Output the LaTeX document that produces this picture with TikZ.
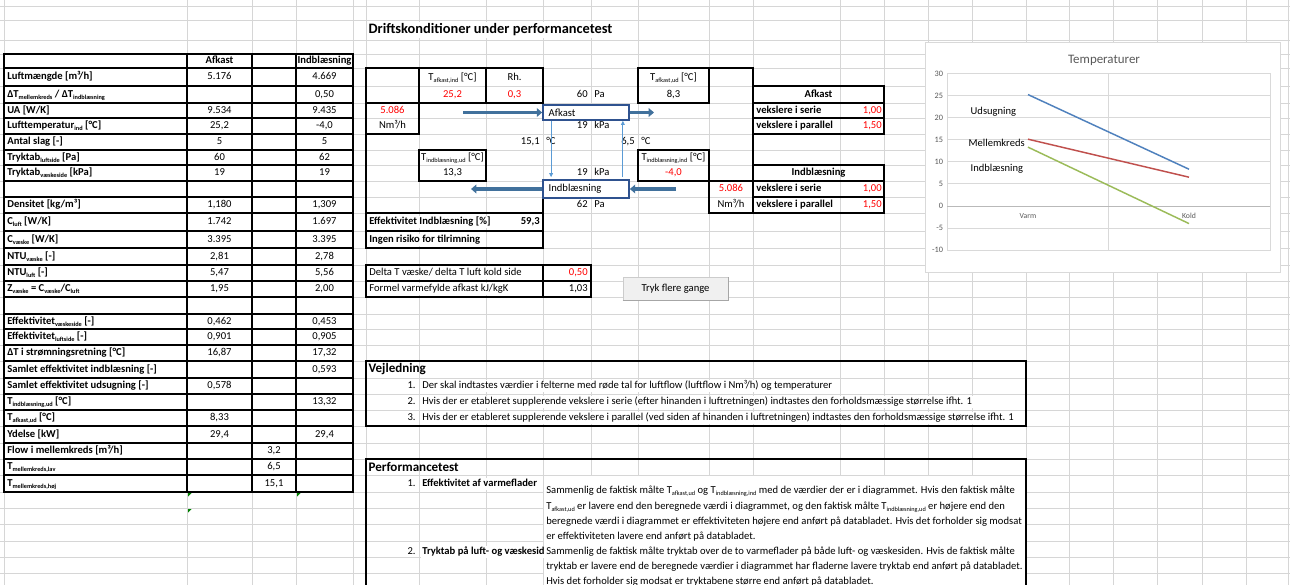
\documentclass[tikz,border=0pt]{standalone}
\usepackage{fontspec}
\setmainfont{Carlito}
\usetikzlibrary{arrows.meta,positioning}

\definecolor{gridgray}{RGB}{214,214,214}
\definecolor{xlred}{RGB}{255,0,0}
\definecolor{fatblue}{RGB}{65,113,156}
\definecolor{boxblue}{RGB}{47,82,143}
\definecolor{thinblue}{RGB}{91,155,213}
\definecolor{serblue}{RGB}{79,129,189}
\definecolor{serred}{RGB}{192,80,77}
\definecolor{sergreen}{RGB}{155,187,89}
\definecolor{chartgray}{RGB}{217,217,217}
\definecolor{labgray}{RGB}{89,89,89}
\definecolor{errgreen}{RGB}{0,128,0}

\newcommand{\cellfont}{\fontsize{7.95}{9.5}\selectfont}
\newcommand{\headfont}{\fontsize{10.8}{12}\selectfont\bfseries}
\newcommand{\sectfont}{\fontsize{9.8}{11}\selectfont\bfseries}
\newcommand{\sbs}[1]{\raisebox{-0.4ex}{\fontsize{4.7}{5}\selectfont #1}}

\tikzset{
  gridline/.style={gridgray, line width=0.6pt},
  xlborder/.style={line width=1.4pt, line cap=rect},
  txt/.style={inner sep=0.8pt, text height=5.8pt, text depth=1.6pt, font=\cellfont},
  lab/.style={txt, anchor=west, font=\cellfont\bfseries},
  rnum/.style={txt, anchor=east},
  lnum/.style={txt, anchor=west},
  redtxt/.style={text=xlred},
  fat/.style={fatblue, line width=2.5pt, -{Triangle[length=4pt,width=6.5pt]}},
  thinarr/.style={thinblue, line width=0.6pt, -{Triangle[length=3pt,width=2.8pt]}},
  hxbox/.style={draw=boxblue, line width=1.3pt, fill=white, minimum width=64.5pt,
    inner sep=0pt, text width=56pt, align=left, font=\cellfont},
  chartgrid/.style={chartgray, line width=0.6pt},
  axlab/.style={anchor=east, inner sep=0.5pt, text=labgray, font=\fontsize{6.2}{7}\selectfont}
}

\begin{document}
\begin{tikzpicture}[x=0.75pt,y=-0.75pt]
\useasboundingbox (0,0) rectangle (1290,585);
\clip (0,0) rectangle (1290,585);

% sheet grid
\foreach \gx in {4,187,252,296,353,366,419,486,543,591,638,709,753,840,884,928,972,1026,1069,1113,1157,1202,1246,1288}
  \draw[gridline] (\gx,0) -- (\gx,585);
\foreach \gy in {6,20,40,54,68,86,103,118,134,150,165,181,197,213,231,248,265,281,297,314,329,345,361,378,394,410,426,443,459,475,492,508,524,541,557,573}
  \draw[gridline] (0,\gy) -- (1290,\gy);

% chart
\draw[chartgray, fill=white] (925,42) rectangle (1280,272);
\node[text=labgray, font=\fontsize{9.7}{11}\selectfont] (charttitle) at (1104,60) {Temperaturer};
\begin{scope}[shift={(0,205.9)}, yscale=-4.4175]
  \foreach \v in {-10,-5,...,30} {
    \draw[chartgrid] (947,\v) -- (1270,\v);
    \node[axlab] (ax\v) at (944,\v) {\v};
  }
  \draw[chartgrid] (1108.5,-10) -- (1108.5,30);
  \draw[chartgrid] (947,-10) rectangle (1270,30);
  \draw[gray!55, line width=0.6pt] (947,0) -- (1270,0);
  \draw[serblue, line width=1.1pt] (1028,25.2) coordinate (ud1) -- (1189,8.3) coordinate (ud2);
  \draw[serred, line width=1.1pt] (1028,15.1) coordinate (mk1) -- (1189,6.5) coordinate (mk2);
  \draw[sergreen, line width=1.1pt] (1028,13.3) coordinate (ib1) -- (1189,-4.0) coordinate (ib2);
\end{scope}
\node[text=labgray, font=\fontsize{5.8}{7}\selectfont] (catvarm) at (1028,216) {Varm};
\node[text=labgray, font=\fontsize{5.8}{7}\selectfont] (catkold) at (1189,216) {Kold};
\node[anchor=west, font=\fontsize{7.9}{9}\selectfont] (lbud) at (966,112) {Udsugning};
\node[anchor=west, font=\fontsize{7.9}{9}\selectfont] (lbmk) at (964,143) {Mellemkreds};
\node[anchor=west, font=\fontsize{7.9}{9}\selectfont] (lbib) at (966,169) {Indblæsning};

% left table
\node[txt, font=\cellfont\bfseries] (hafk) at (219.5,61) {Afkast};
\node[txt, font=\cellfont\bfseries] (hind) at (324.5,61) {Indblæsning};
\foreach \yy/\lab/\va/\vm/\vb [count=\i] in {
  77/{Luftmængde [m³/h]}/5.176//4.669,
  94.5/{ΔT\sbs{mellemkreds} / ΔT\sbs{indblæsning}}///{0,50},
  110.5/{UA [W/K]}/9.534//9.435,
  126/{Lufttemperatur\sbs{ind} [°C]}/{25,2}//{-4,0},
  142/{Antal slag [-]}/5//5,
  157.5/{Tryktab\sbs{luftside} [Pa]}/60//62,
  173/{Tryktab\sbs{væskeside} [kPa]}/19//19,
  205/{Densitet [kg/m³]}/{1,180}//{1,309},
  222/{C\sbs{luft} [W/K]}/1.742//1.697,
  239.5/{C\sbs{væske} [W/K]}/3.395//3.395,
  256.5/{NTU\sbs{væske} [-]}/{2,81}//{2,78},
  273/{NTU\sbs{luft} [-]}/{5,47}//{5,56},
  289/{Z\sbs{væske} = C\sbs{væske}/C\sbs{luft}}/{1,95}//{2,00},
  321.5/{Effektivitet\sbs{væskeside} [-]}/{0,462}//{0,453},
  337/{Effektivitet\sbs{luftside} [-]}/{0,901}//{0,905},
  353/{ΔT i strømningsretning [°C]}/{16,87}//{17,32},
  369.5/{Samlet effektivitet indblæsning [-]}///{0,593},
  386/{Samlet effektivitet udsugning [-]}/{0,578}//,
  402/{T\sbs{indblæsning,ud} [°C]}///{13,32},
  418/{T\sbs{afkast,ud} [°C]}/{8,33}//,
  434.5/{Ydelse [kW]}/{29,4}//{29,4},
  451/{Flow i mellemkreds [m³/h]}//{3,2}/,
  467/{T\sbs{mellemkreds,lav}}//{6,5}/,
  483.5/{T\sbs{mellemkreds,høj}}//{15,1}/} {
  \node[lab] (lab\i) at (6,\yy) {\lab};
  \node[txt] (afk\i) at (219.5,\yy) {\va};
  \node[txt] (mid\i) at (274,\yy) {\vm};
  \node[txt] (ind\i) at (324.5,\yy) {\vb};
}
\foreach \gy in {54,68,86,103,118,134,150,165,181,197,213,231,248,265,281,297,314,329,345,361,378,394,410,426,443,459,475,492}
  \draw[xlborder] (4,\gy) -- (353,\gy);
\foreach \gx in {4,187,252,296,353}
  \draw[xlborder] (\gx,54) -- (\gx,492);
\fill[errgreen] (188,493) -- (191.5,493) -- (188,496.5) -- cycle;
\fill[errgreen] (297,493) -- (300.5,493) -- (297,496.5) -- cycle;
\fill[errgreen] (188,509) -- (191.5,509) -- (188,512.5) -- cycle;

% title
\node[anchor=west, fill=white, inner sep=1pt, font=\headfont] (title) at (367,30) {Driftskonditioner under performancetest};

% operating conditions
\node[txt] (tafkind) at (452.5,77.5) {T\sbs{afkast,ind} [°C]};
\node[txt] (rh) at (514.5,77.5) {Rh.};
\node[txt] (tafkud) at (673.5,77.5) {T\sbs{afkast,ud} [°C]};
\node[txt, redtxt] (vafkind) at (452.5,94.5) {25,2};
\node[txt, redtxt] (vrh) at (514.5,94.5) {0,3};
\node[rnum] (pafk) at (589,94.5) {60};
\node[lnum] (pafku) at (593,94.5) {Pa};
\node[txt] (vafkud) at (673.5,94.5) {8,3};
\node[txt, redtxt] (flowafk) at (392.5,110.5) {5.086};
\node[txt] (flowafku) at (392.5,126) {Nm³/h};
\node[rnum] (kpafk) at (589,126) {19};
\node[lnum] (kpafku) at (593,126) {kPa};
\node[rnum] (thoj) at (541,142) {15,1};
\node[lnum] (thoju) at (545,142) {°C};
\node[rnum] (tlav) at (636,142) {6,5};
\node[lnum] (tlavu) at (640,142) {°C};
\node[txt] (tindud) at (452.5,157.5) {T\sbs{indblæsning,ud} [°C]};
\node[txt] (tindind) at (673.5,157.5) {T\sbs{indblæsning,ind} [°C]};
\node[txt] (vindud) at (452.5,173) {13,3};
\node[rnum] (kpind) at (589,173) {19};
\node[lnum] (kpindu) at (593,173) {kPa};
\node[txt, redtxt] (vindind) at (673.5,173) {-4,0};
\node[txt, redtxt] (flowind) at (731,189) {5.086};
\node[rnum] (pind) at (589,205) {62};
\node[lnum] (pindu) at (593,205) {Pa};
\node[txt] (flowindu) at (731,205) {Nm³/h};

% exchanger factors
\node[txt, font=\cellfont\bfseries] (afkhead) at (818.5,94.5) {Afkast};
\node[lab] (afkser) at (755,110.5) {vekslere i serie};
\node[rnum, redtxt] (afkserv) at (883,110.5) {1,00};
\node[lab] (afkpar) at (755,126) {vekslere i parallel};
\node[rnum, redtxt] (afkparv) at (883,126) {1,50};
\node[txt, font=\cellfont\bfseries] (indhead) at (818.5,173) {Indblæsning};
\node[lab] (indser) at (755,189) {vekslere i serie};
\node[rnum, redtxt] (indserv) at (883,189) {1,00};
\node[lab] (indpar) at (755,205) {vekslere i parallel};
\node[rnum, redtxt] (indparv) at (883,205) {1,50};

% results below
\node[lab, fill=white] (effind) at (368,222) {Effektivitet Indblæsning [\%]};
\node[rnum, font=\cellfont\bfseries] (effindv) at (541,222) {59,3};
\node[lab, fill=white] (risiko) at (368,239.5) {Ingen risiko for tilrimning};
\node[lnum, fill=white] (deltat) at (368,273) {Delta T væske/ delta T luft kold side};
\node[rnum, redtxt] (deltatv) at (589,273) {0,50};
\node[lnum, fill=white] (formel) at (368,289) {Formel varmefylde afkast kJ/kgK};
\node[rnum] (formelv) at (589,289) {1,03};
\node[draw=gray!40, fill=gray!12, minimum width=78.75pt, minimum height=17pt, font=\cellfont] (btn) at (675.5,288.5) {Tryk flere gange};
\draw[gray!70, line width=0.6pt] (btn.south west) -- (btn.south east) -- (btn.north east);

% guidance
\node[anchor=west, inner sep=1pt, font=\sectfont] (vejl) at (367,369.5) {Vejledning};
\foreach \yy/\nr/\vtxt in {
  386/1/{Der skal indtastes værdier i felterne med røde tal for luftflow (luftflow i Nm³/h) og temperaturer},
  402/2/{Hvis der er etableret supplerende vekslere i serie (efter hinanden i luftretningen) indtastes den forholdsmæssige størrelse ifht. 1},
  418/3/{Hvis der er etableret supplerende vekslere i parallel (ved siden af hinanden i luftretningen) indtastes den forholdsmæssige størrelse ifht. 1}} {
  \node[rnum] (vnr\nr) at (417,\yy) {\nr.};
  \node[lnum, fill=white] (vtxt\nr) at (421,\yy) {\vtxt};
}

% performance test
\node[anchor=west, inner sep=1pt, font=\sectfont] (perf) at (367,467) {Performancetest};
\node[rnum] (pnr1) at (417,483.5) {1.};
\node[lab, fill=white] (ptit1) at (421,483.5) {Effektivitet af varmeflader};
\node[rnum] (pnr2) at (417,552) {2.};
\node[lab, fill=white] (ptit2) at (421,552) {Tryktab på luft- og væskeside};
\fill[white] (543.6,476) rectangle (1025,586);
\node[lnum] (p1a) at (545,491) {Sammenlig de faktisk målte T\sbs{afkast,ud} og T\sbs{indblæsning,ind} med de værdier der er i diagrammet. Hvis den faktisk målte};
\node[lnum] (p1b) at (545,507) {T\sbs{afkast,ud} er lavere end den beregnede værdi i diagrammet, og den faktisk målte T\sbs{indblæsning,ud} er højere end den};
\node[lnum] (p1c) at (545,522) {beregnede værdi i diagrammet er effektiviteten højere end anført på databladet. Hvis det forholder sig modsat};
\node[lnum] (p1d) at (545,537) {er effektiviteten lavere end anført på databladet.};
\node[lnum] (p2a) at (545,552) {Sammenlig de faktisk målte tryktab over de to varmeflader på både luft- og væskesiden. Hvis de faktisk målte};
\node[lnum] (p2b) at (545,567) {tryktab er lavere end de beregnede værdier i diagrammet har fladerne lavere tryktab end anført på databladet.};
\node[lnum] (p2c) at (545,582) {Hvis det forholder sig modsat er tryktabene større end anført på databladet.};

% borders
\draw[xlborder] (366,68) rectangle (419,103);
\draw[xlborder] (419,68) rectangle (486,103);
\draw[xlborder] (486,68) rectangle (543,103);
\draw[xlborder] (366,103) rectangle (419,134);
\draw[xlborder] (366,134) -- (366,213) -- (543,213) -- (543,197);
\draw[xlborder] (419,150) rectangle (486,181);
\draw[xlborder] (638,68) rectangle (709,103);
\draw[xlborder] (709,68) -- (753,68) -- (753,213) -- (709,213);
\draw[xlborder] (638,150) rectangle (709,181);
\draw[xlborder] (709,181) rectangle (753,213);
\draw[xlborder] (753,86) rectangle (884,134);
\draw[xlborder] (753,103) -- (884,103) (753,118) -- (884,118);
\draw[xlborder] (753,165) rectangle (884,213);
\draw[xlborder] (753,181) -- (884,181) (753,197) -- (884,197);
\draw[xlborder] (366,213) rectangle (543,231);
\draw[xlborder] (366,231) rectangle (543,248);
\draw[xlborder] (366,265) rectangle (543,281);
\draw[xlborder] (543,265) rectangle (591,281);
\draw[xlborder] (366,281) rectangle (543,297);
\draw[xlborder] (543,281) rectangle (591,297);
\draw[xlborder] (366,361) rectangle (1026,426);
\draw[xlborder] (366,459) rectangle (1026,600);

% heat exchangers
\node[hxbox, minimum height=11.25pt] (afkbox) at (586,112.5) {Afkast};
\node[hxbox, minimum height=13.5pt] (indbox) at (586,189) {Indblæsning};
\coordinate (afkin) at (463,112.5);
\coordinate (afkout) at (654,112.5);
\coordinate (indin) at (676,189);
\coordinate (indout) at (471,189);
\draw[fat] (afkin) -- (afkbox.west);
\draw[fat] (afkbox.east) -- (afkout);
\draw[fat] (indin) -- (indbox.east);
\draw[fat] (indbox.west) -- (indout);
\draw[thinarr] ([xshift=6.75pt]afkbox.south west) -- ([xshift=6.75pt,yshift=1.5pt]indbox.north west);
\draw[thinarr] ([xshift=-5.25pt,yshift=1.5pt]indbox.north east) -- ([xshift=-5.25pt]afkbox.south east);
\end{tikzpicture}
\end{document}
